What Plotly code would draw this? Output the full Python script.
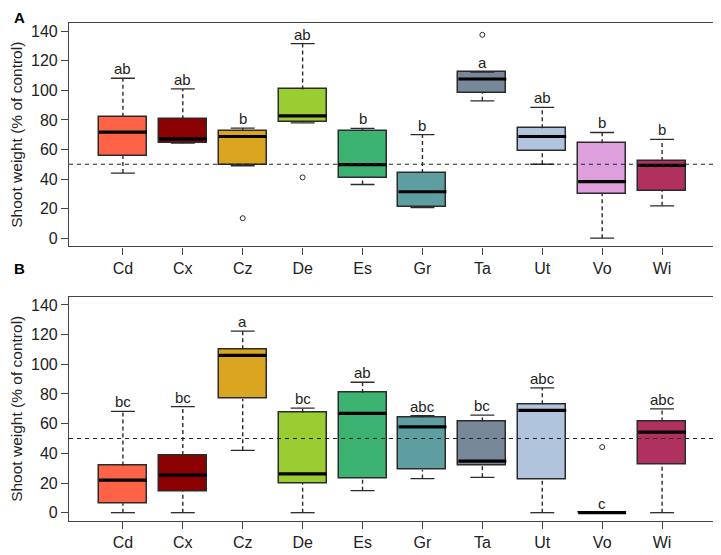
import plotly.graph_objects as go

categories = ["Cd", "Cx", "Cz", "De", "Es", "Gr", "Ta", "Ut", "Vo", "Wi"]
colors = ["#FF6347", "#8B0000", "#DAA520", "#9ACD32", "#3CB371",
          "#5F9EA0", "#778899", "#B0C4DE", "#DDA0DD", "#B03060"]

# Panel A
a_lower = [44.0, 64.3, 49.0, 78.0, 36.3, 20.6, 92.9, 50.0, 0.0, 21.9]
a_q1 = [55.7, 64.6, 49.3, 78.3, 40.9, 21.2, 98.2, 58.9, 30.1, 31.9]
a_med = [71.7, 67.2, 68.8, 82.7, 49.8, 31.4, 107.7, 68.8, 38.3, 49.3]
a_q3 = [82.1, 80.5, 72.8, 100.6, 72.5, 44.0, 112.4, 74.3, 64.2, 52.2]
a_upper = [108.2, 101.0, 74.5, 131.6, 74.3, 70.1, 112.4, 88.5, 71.5, 66.8]
a_letters = ["ab", "ab", "b", "ab", "b", "b", "a", "ab", "b", "b"]
a_out_cat = ["Cz", "De", "Ta"]
a_out_val = [13.5, 41.1, 137.6]

# Panel B
b_lower = [0.0, 0.0, 42.0, 0.0, 14.8, 23.0, 23.8, 0.0, 0.0, 0.0]
b_q1 = [6.4, 14.4, 76.6, 19.9, 22.7, 28.9, 32.0, 22.3, 0.0, 32.5]
b_med = [22.0, 25.3, 106.0, 26.1, 66.9, 57.8, 34.7, 68.9, 0.0, 54.3]
b_q3 = [31.8, 38.8, 110.2, 67.3, 80.6, 64.3, 61.4, 73.1, 0.0, 61.4]
b_upper = [68.2, 71.5, 122.3, 70.4, 87.9, 65.4, 65.8, 84.1, 0.0, 70.0]
b_letters = ["bc", "bc", "a", "bc", "ab", "abc", "bc", "abc", "c", "abc"]
b_out_cat = ["Vo"]
b_out_val = [44.2]

y_ticks = [0, 20, 40, 60, 80, 100, 120, 140]
ref_line = 50
y_title = "Shoot weight (% of control)"

# the page body adds an 8px margin; size the figure to fit the 721x555 window
OFF = 8
W, H = 721 - OFF, 555 - OFF
ML, MR, MT, MB = 68 - OFF, 4, 23 - OFF, 26
plot_h = H - MT - MB
pos = {c: i + 1 for i, c in enumerate(categories)}
xs = [pos[c] for c in categories]

FONT = "Liberation Sans, Arial, sans-serif"
EDGE = "#2b2b2b"

fig = go.Figure()


def add_panel(xa, ya, lower, q1, med, q3, upper, letters, out_cat, out_val):
    # boxes
    fig.add_trace(go.Bar(
        x=xs, y=[b - a for a, b in zip(q1, q3)], base=q1, width=0.8,
        marker=dict(color=colors, line=dict(color=EDGE, width=1.5)),
        xaxis=xa, yaxis=ya, showlegend=False, hoverinfo="skip"))
    # whiskers (dashed)
    wx, wy = [], []
    for x, lo, a, b, hi in zip(xs, lower, q1, q3, upper):
        wx += [x, x, None, x, x, None]
        wy += [b, hi, None, lo, a, None]
    fig.add_trace(go.Scatter(x=wx, y=wy, mode="lines",
                             line=dict(color=EDGE, width=1.4, dash="4px,3px"),
                             xaxis=xa, yaxis=ya, showlegend=False, hoverinfo="skip"))
    # caps
    cx, cy = [], []
    for x, lo, hi in zip(xs, lower, upper):
        cx += [x - 0.2, x + 0.2, None, x - 0.2, x + 0.2, None]
        cy += [hi, hi, None, lo, lo, None]
    fig.add_trace(go.Scatter(x=cx, y=cy, mode="lines",
                             line=dict(color=EDGE, width=1.3),
                             xaxis=xa, yaxis=ya, showlegend=False, hoverinfo="skip"))
    # medians
    mx, my = [], []
    for x, m in zip(xs, med):
        mx += [x - 0.4, x + 0.4, None]
        my += [m, m, None]
    fig.add_trace(go.Scatter(x=mx, y=my, mode="lines",
                             line=dict(color="black", width=3.2),
                             xaxis=xa, yaxis=ya, showlegend=False, hoverinfo="skip"))
    # outliers
    fig.add_trace(go.Scatter(x=[pos[c] for c in out_cat], y=out_val, mode="markers",
                             marker=dict(symbol="circle-open", size=5,
                                         color=EDGE, line=dict(width=1)),
                             xaxis=xa, yaxis=ya, showlegend=False, hoverinfo="skip"))
    # letters
    for x, hi, t in zip(xs, upper, letters):
        fig.add_annotation(x=x, y=hi, text=t, showarrow=False, xref=xa, yref=ya,
                           yanchor="bottom", yshift=-1,
                           font=dict(family=FONT, size=15, color="#222"))
    # reference line
    fig.add_shape(type="line", xref=xa + " domain", yref=ya, x0=0, x1=1,
                  y0=ref_line, y1=ref_line,
                  line=dict(color="#222", width=1.2, dash="4px,4px"))


add_panel("x", "y", a_lower, a_q1, a_med, a_q3, a_upper, a_letters, a_out_cat, a_out_val)
add_panel("x2", "y2", b_lower, b_q1, b_med, b_q3, b_upper, b_letters, b_out_cat, b_out_val)


def py(pix):
    return (H - MB - (pix - OFF)) / plot_h


def px(pix):
    return ((pix - OFF) - ML) / (W - ML - MR)


ax_common = dict(range=[0.1, 10.9], tickvals=xs, ticktext=categories,
                 showline=True, mirror=True, linecolor="#444", linewidth=1.2,
                 ticks="outside", ticklen=7, tickcolor="#444", showgrid=False,
                 zeroline=False, tickfont=dict(family=FONT, size=16, color="#222"))
ay_common = dict(range=[-5.6, 145.6], tickvals=y_ticks,
                 showline=True, mirror=True, linecolor="#444", linewidth=1.2,
                 ticks="outside", ticklen=7, tickcolor="#444", showgrid=False,
                 zeroline=False, tickfont=dict(family=FONT, size=16, color="#222"),
                 title=dict(text=y_title, standoff=8,
                            font=dict(family=FONT, size=15.5, color="#222")))

fig.update_layout(
    width=W, height=H,
    margin=dict(l=ML, r=MR, t=MT, b=MB),
    paper_bgcolor="white", plot_bgcolor="white",
    barmode="overlay", bargap=0,
    xaxis=dict(domain=[0, 1], anchor="y", **ax_common),
    yaxis=dict(domain=[py(250), 1], anchor="x", **ay_common),
    xaxis2=dict(domain=[0, 1], anchor="y2", **ax_common),
    yaxis2=dict(domain=[0, py(301)], anchor="x2", **ay_common),
)

fig.add_annotation(text="<b>A</b>", xref="paper", yref="paper",
                   x=px(18), y=py(8), xanchor="center", yanchor="top",
                   showarrow=False, borderpad=0,
                   font=dict(family=FONT, size=15, color="black"))
fig.add_annotation(text="<b>B</b>", xref="paper", yref="paper",
                   x=px(18), y=py(272), xanchor="center", yanchor="middle",
                   showarrow=False,
                   font=dict(family=FONT, size=15, color="black"))

fig.write_html("out.html")
